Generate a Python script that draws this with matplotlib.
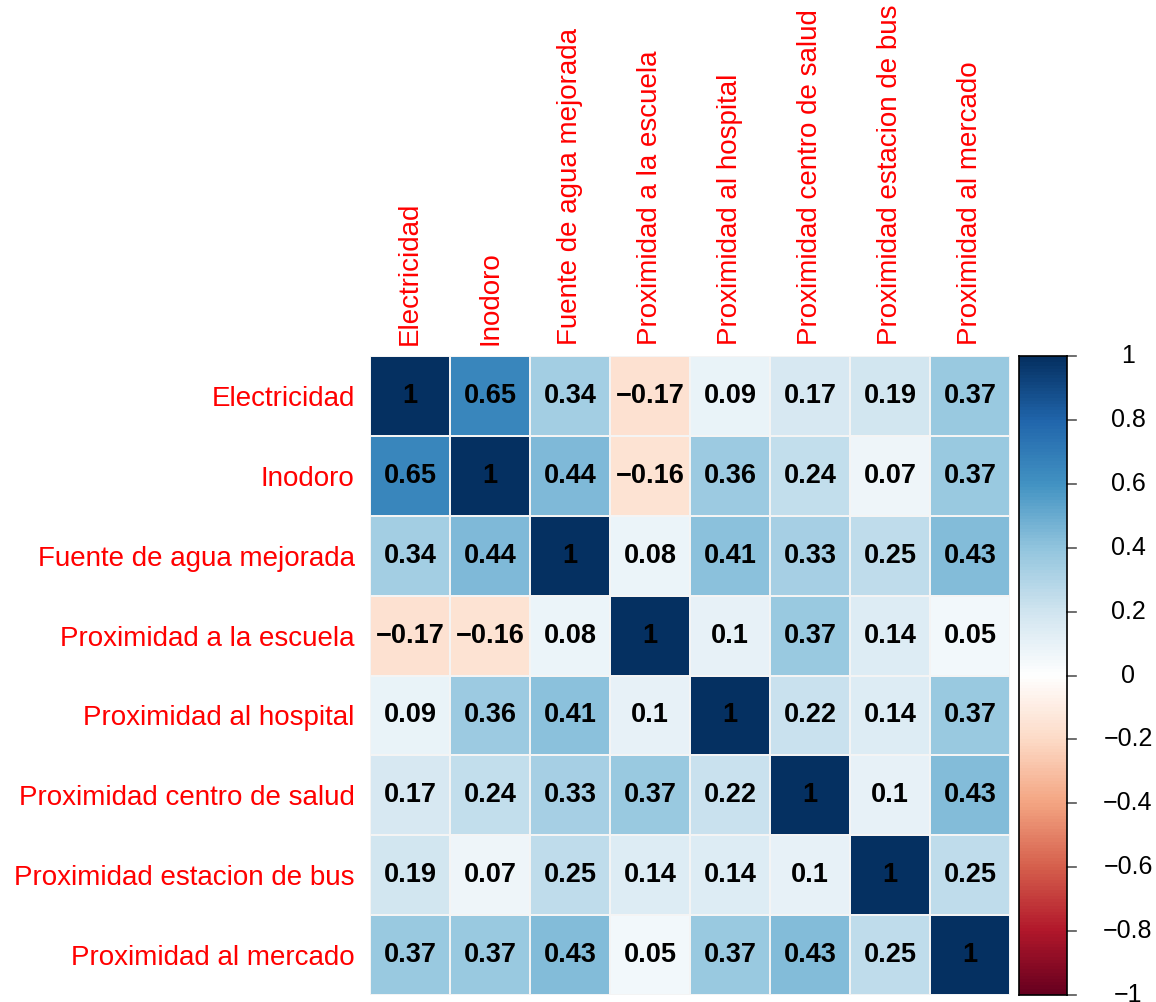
import numpy as np
import matplotlib
matplotlib.use("Agg")
import matplotlib.pyplot as plt
from matplotlib.colors import LinearSegmentedColormap

plt.rcParams['font.family'] = ['Liberation Sans', 'DejaVu Sans']

# variables and their correlation matrix
variables = ["Electricidad", "Inodoro", "Fuente de agua mejorada",
             "Proximidad a la escuela", "Proximidad al hospital",
             "Proximidad centro de salud", "Proximidad estacion de bus",
             "Proximidad al mercado"]

corr = np.array([
    [1, 0.65, 0.34, -0.17, 0.09, 0.17, 0.19, 0.37],
    [0.65, 1, 0.44, -0.16, 0.36, 0.24, 0.07, 0.37],
    [0.34, 0.44, 1, 0.08, 0.41, 0.33, 0.25, 0.43],
    [-0.17, -0.16, 0.08, 1, 0.1, 0.37, 0.14, 0.05],
    [0.09, 0.36, 0.41, 0.1, 1, 0.22, 0.14, 0.37],
    [0.17, 0.24, 0.33, 0.37, 0.22, 1, 0.1, 0.43],
    [0.19, 0.07, 0.25, 0.14, 0.14, 0.1, 1, 0.25],
    [0.37, 0.37, 0.43, 0.05, 0.37, 0.43, 0.25, 1],
])

cbar_ticks = [-1, -0.8, -0.6, -0.4, -0.2, 0, 0.2, 0.4, 0.6, 0.8, 1]

# RdBu palette, red for negative, blue for positive
pal = ["#67001F", "#B2182B", "#D6604D", "#F4A582", "#FDDBC7", "#FFFFFF",
       "#D1E5F0", "#92C5DE", "#4393C3", "#2166AC", "#053061"]
cmap = LinearSegmentedColormap.from_list("rdbu", pal, N=200)


def fmt(v):
    return f"{v:g}".replace("-", "\u2212")


fig = plt.figure(figsize=(11.56, 10.02), dpi=100)
ax = fig.add_axes([370 / 1156, 1 - 995 / 1002, 640 / 1156, 639 / 1002])

n = len(variables)
ax.pcolormesh(np.arange(n + 1), np.arange(n + 1), corr, cmap=cmap,
              vmin=-1, vmax=1, edgecolors="#f4f4f4", linewidth=0.15)
ax.set_xlim(0, n)
ax.set_ylim(n, 0)

for i in range(n):
    for j in range(n):
        ax.text(j + 0.5, i + 0.5, fmt(corr[i, j]), ha="center", va="center",
                fontsize=19.5, fontweight="bold", color="black")

ax.xaxis.tick_top()
ax.set_xticks(np.arange(n) + 0.5)
ax.set_xticklabels(variables, rotation=90, color="red", fontsize=20)
ax.set_yticks(np.arange(n) + 0.5)
ax.set_yticklabels(variables, color="red", fontsize=20)
ax.tick_params(axis="x", length=0, pad=8)
ax.tick_params(axis="y", length=0, pad=11)
for s in ax.spines.values():
    s.set_visible(False)

# colour legend
cax = fig.add_axes([1019 / 1156, 1 - 995 / 1002, 48 / 1156, 639 / 1002])
grad = np.linspace(-1, 1, 200).reshape(-1, 1)
cax.imshow(grad, cmap=cmap, vmin=-1, vmax=1, aspect="auto",
           origin="lower", extent=[0, 1, -1, 1])
cax.set_xlim(0, 1)
cax.set_ylim(-1, 1)
cax.set_xticks([])
cax.set_yticks([])
for s in cax.spines.values():
    s.set_color("black")
    s.set_linewidth(1.2)
for t in cbar_ticks:
    cax.plot([1, 1.19], [t, t], color="#555555", lw=1.2, clip_on=False)
    cax.text(2.27, t, fmt(t), ha="center", va="center", fontsize=18,
             color="black", clip_on=False)

fig.savefig("out.png", dpi=100)
